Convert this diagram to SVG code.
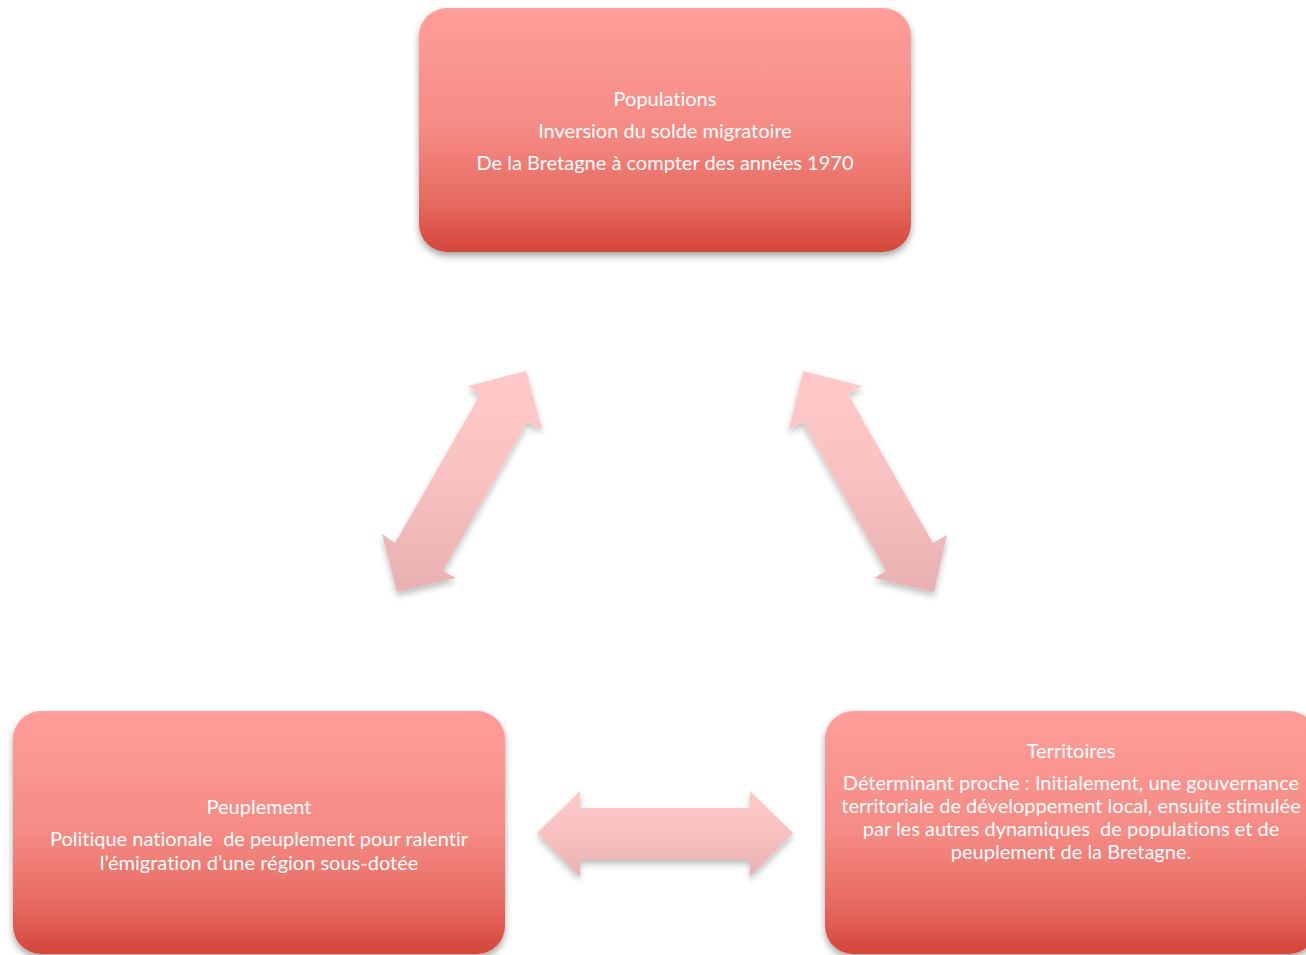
<svg xmlns="http://www.w3.org/2000/svg" width="1306" height="955" viewBox="0 0 1306 955">
<defs>
<linearGradient id="boxg" x1="0" y1="0" x2="0" y2="1">
<stop offset="0" stop-color="#FF9E9A"/>
<stop offset="0.5" stop-color="#F58B84"/>
<stop offset="0.8" stop-color="#E6695F"/>
<stop offset="1" stop-color="#D5453A"/>
</linearGradient>
<linearGradient id="arrg" x1="0" y1="0" x2="0" y2="1">
<stop offset="0" stop-color="#FFC9C9"/>
<stop offset="0.5" stop-color="#F8C2C2"/>
<stop offset="1" stop-color="#E8B0B0"/>
</linearGradient>
<filter id="sh" x="-10%" y="-10%" width="120%" height="125%">
<feDropShadow dx="0" dy="4" stdDeviation="3.5" flood-color="#000" flood-opacity="0.35"/>
</filter>
<filter id="ash" x="-20%" y="-20%" width="140%" height="140%">
<feDropShadow dx="0" dy="4" stdDeviation="3" flood-color="#000" flood-opacity="0.25"/>
</filter>
</defs>
<style>
.box{fill:url(#boxg);filter:url(#sh);}
.arr{fill:url(#arrg);filter:url(#ash);}
text{font-family:Lato,"Open Sans","Liberation Sans",sans-serif;font-size:20px;fill:#FFFFFF;text-anchor:middle;dominant-baseline:central;font-variant-ligatures:none;}
</style>
<g id="connectors">
<polygon class="arr" points="526,371 542,429 527,422 443,571 456,578 397,592 382,534 395,543 480,395 468,386"/>
<polygon class="arr" points="803,371 862,386 848,394 933,543 947,535 934,592 874,578 886,571 803,422 789,429"/>
<polygon class="arr" points="537,833 580,791 580,808 750,808 750,791 793,833 750,877 750,860 580,860 580,877"/>
</g>
<g id="node-populations">
<rect class="box" x="419" y="8" width="492" height="244" rx="28"/>
<text x="665" y="98">Populations</text>
<text x="665" y="130">Inversion du solde migratoire</text>
<text x="665" y="162">De la Bretagne à compter des années 1970</text>
</g>
<g id="node-peuplement">
<rect class="box" x="13" y="711" width="492" height="243" rx="28"/>
<text x="259" y="806">Peuplement</text>
<text x="259" y="838" xml:space="preserve">Politique nationale  de peuplement pour ralentir</text>
<text x="259" y="862">l’émigration d’une région sous-dotée</text>
</g>
<g id="node-territoires">
<rect class="box" x="825" y="711" width="492" height="243" rx="28"/>
<text x="1071" y="750">Territoires</text>
<text x="1071" y="782">Déterminant proche : Initialement, une gouvernance</text>
<text x="1071" y="805">territoriale de développement local, ensuite stimulée</text>
<text x="1071" y="828" xml:space="preserve">par les autres dynamiques  de populations et de</text>
<text x="1071" y="851">peuplement de la Bretagne.</text>
</g>
</svg>
